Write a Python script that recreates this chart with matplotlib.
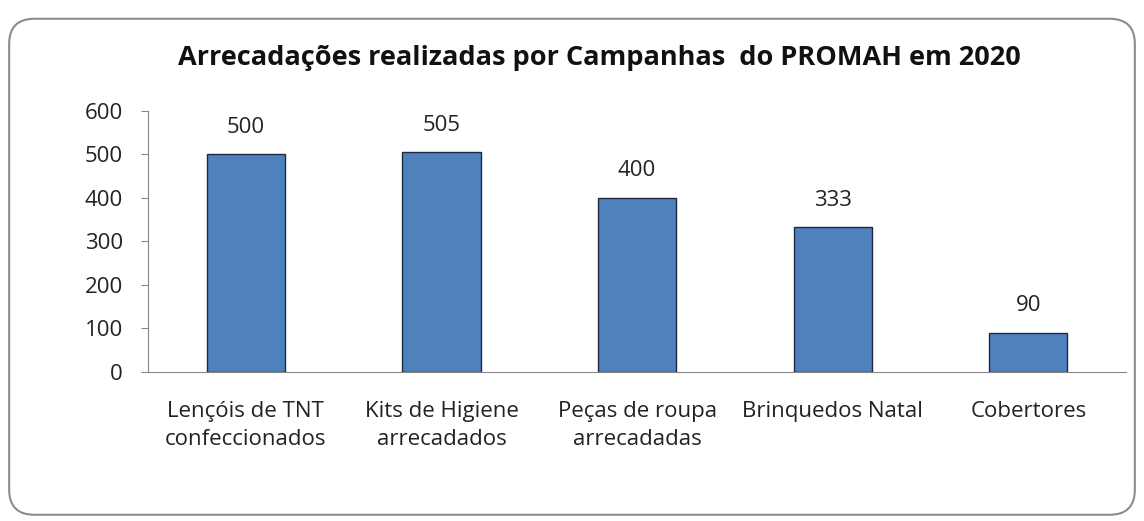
import matplotlib.pyplot as plt
from matplotlib.patches import FancyBboxPatch

categories = ["Lençóis de TNT\nconfeccionados", "Kits de Higiene\narrecadados",
              "Peças de roupa\narrecadadas", "Brinquedos Natal", "Cobertores"]
values = [500, 505, 400, 333, 90]
yticks = [0, 100, 200, 300, 400, 500, 600]

plt.rcParams['font.family'] = ['Open Sans', 'DejaVu Sans']

fig = plt.figure(figsize=(11.44, 5.21), dpi=100)

# rounded chart frame, drawn behind the axes
frame = FancyBboxPatch((0.008, 0.012), 0.984, 0.952,
                       boxstyle="round,pad=0,rounding_size=0.022",
                       transform=fig.transFigure, facecolor="white",
                       edgecolor="#8c8c8c", linewidth=1.5,
                       mutation_aspect=1144 / 521, zorder=-5)
fig.patches.append(frame)

ax = fig.add_axes([0.1294, 0.286, 0.855, 0.501])
ax.set_zorder(2)
ax.set_facecolor("none")
x = range(len(categories))
bars = ax.bar(x, values, width=0.40, color="#4F81BD", edgecolor="#1c2a40", linewidth=1)

for xi, v in zip(x, values):
    ax.annotate(str(v), (xi, v), xytext=(0, 19.5), textcoords="offset points",
                ha="center", va="center", fontsize=16, color="#222222")

ax.set_xlim(-0.5, len(categories) - 0.5)
ax.set_ylim(0, 600)
ax.set_yticks(yticks)
ax.set_xticks(list(x))
ax.set_xticklabels(categories, fontsize=16, color="#222222", linespacing=1.4)
ax.tick_params(axis="x", length=0, pad=21)
ax.tick_params(axis="y", length=5, color="#868686", labelsize=16, labelcolor="#222222", pad=13)
for s in ["top", "right"]:
    ax.spines[s].set_visible(False)
for s in ["left", "bottom"]:
    ax.spines[s].set_color("#868686")

fig.text(0.5236, 0.889, "Arrecadações realizadas por Campanhas  do PROMAH em 2020",
         ha="center", va="center", fontsize=19.5, fontweight="bold", color="#111111")

fig.savefig("out.png", dpi=100)
